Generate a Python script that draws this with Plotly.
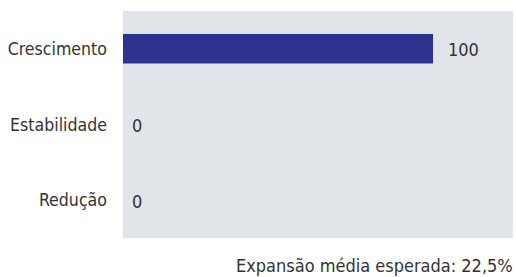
import plotly.graph_objects as go

categories = ["Crescimento", "Estabilidade", "Redução"]
values = [100, 0, 0]
value_labels = ["100", "0", "0"]
footer_text = "Expansão média esperada: 22,5%"

FONT = "DejaVu Sans Condensed, Roboto, sans-serif"
TXT = "#333333"

W, H = 516, 277
ML, MR, MT, MB = 123, 3, 11, 39

fig = go.Figure()
fig.add_trace(go.Bar(
    y=categories, x=values, orientation="h",
    marker=dict(color="#2e3390", line=dict(width=0)),
    width=0.39, hoverinfo="skip",
))

for c, v, t in zip(categories, values, value_labels):
    fig.add_annotation(x=v, y=c, xref="x", yref="y", text=t, showarrow=False,
                       xanchor="left", yanchor="middle", yshift=-1,
                       xshift=13 if v else 7,
                       font=dict(family=FONT, size=18, color=TXT))

plot_h = H - MT - MB
fig.add_annotation(x=1, y=-MB / plot_h, xref="paper", yref="paper", text=footer_text,
                   showarrow=False, xanchor="right", yanchor="bottom",
                   xshift=2, yshift=-1,
                   font=dict(family=FONT, size=18, color=TXT))

fig.update_layout(
    width=W, height=H,
    margin=dict(l=ML, r=MR, t=MT, b=MB, autoexpand=False),
    paper_bgcolor="white", plot_bgcolor="#e1e5ea",
    showlegend=False,
    xaxis=dict(range=[0, 125.8], showgrid=False, zeroline=False,
               showticklabels=False, fixedrange=True, automargin=False),
    yaxis=dict(categoryorder="array", categoryarray=categories[::-1],
               showgrid=False, zeroline=False, ticklabelstandoff=15,
               automargin=False, fixedrange=True,
               tickfont=dict(family=FONT, size=17.6, color=TXT)),
)

fig.write_html(
    "out.html",
    config={"displayModeBar": False, "staticPlot": True},
    post_script=(
        "document.body.style.margin='0';"
        "document.body.style.overflow='hidden';"
        "document.documentElement.style.overflow='hidden';"
    ),
)
